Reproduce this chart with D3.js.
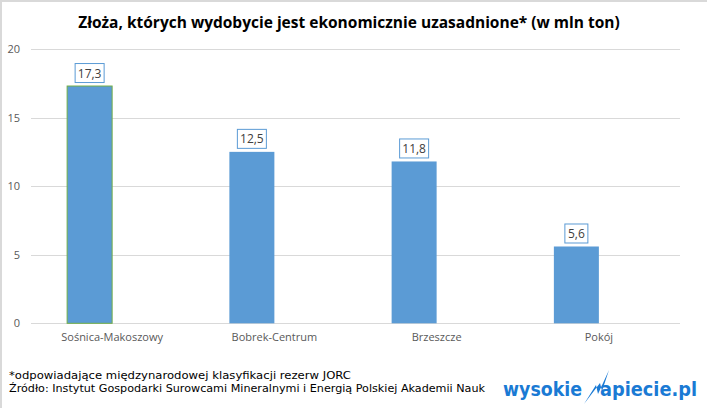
<!DOCTYPE html>
<html>
<head>
<meta charset="utf-8">
<script src="https://cdn.jsdelivr.net/npm/d3@7"></script>
<style>
  body { margin: 0; background: #fff; }
  svg { display: block; }
</style>
</head>
<body>
<svg width="707" height="408"></svg>
<script>
const categories = ["Sośnica-Makoszowy", "Bobrek-Centrum", "Brzeszcze", "Pokój"];
const values = [17.3, 12.5, 11.8, 5.6];
const labels = ["17,3", "12,5", "11,8", "5,6"];
const yTicks = [0, 5, 10, 15, 20];
// second (empty) series slot – excel keeps room for it next to each bar
const series = ["value", "empty"];

const svg = d3.select("svg");

// light frame on the left and top edge
svg.append("line").attr("x1", 1).attr("x2", 1).attr("y1", 0).attr("y2", 408)
  .attr("stroke", "#d9d9d9").attr("stroke-width", 2);
svg.append("line").attr("x1", 0).attr("x2", 707).attr("y1", 1).attr("y2", 1)
  .attr("stroke", "#d9d9d9").attr("stroke-width", 2);

const plotLeft = 31, plotRight = 680, plotTop = 49, plotBottom = 323.3;

const x = d3.scaleBand()
  .domain(categories)
  .range([plotLeft, plotRight])
  .paddingInner(0.4453)
  .paddingOuter(0.4453 / 2);

const x1 = d3.scaleBand().domain(series).range([0, x.bandwidth()]);

const y = d3.scaleLinear().domain([0, 20]).range([plotBottom, plotTop]);

svg.append("text")
  .attr("x", 349)
  .attr("y", 28)
  .attr("text-anchor", "middle")
  .style("font-family", "'Open Sans', sans-serif")
  .style("font-weight", "bold")
  .style("font-size", "15.5px")
  .attr("fill", "#000")
  .text("Złoża, których wydobycie jest ekonomicznie uzasadnione* (w mln ton)");

// grid
svg.append("g")
  .selectAll("line")
  .data(yTicks)
  .join("line")
  .attr("x1", plotLeft)
  .attr("x2", plotRight)
  .attr("y1", (d) => Math.round(y(d)) + 0.5)
  .attr("y2", (d) => Math.round(y(d)) + 0.5)
  .attr("stroke", "#d9d9d9");

const yAxis = svg.append("g")
  .attr("transform", `translate(20,0)`)
  .call(d3.axisLeft(y).tickValues(yTicks).tickSize(0).tickPadding(0));
yAxis.select(".domain").remove();
yAxis.selectAll("text")
  .style("font-family", "'Open Sans', sans-serif")
  .style("font-size", "11px")
  .attr("fill", "#595959");

const xAxis = svg.append("g")
  .attr("transform", `translate(0,${plotBottom})`)
  .call(d3.axisBottom(x).tickSize(0).tickPadding(10));
xAxis.select(".domain").remove();
xAxis.selectAll("text")
  .style("font-family", "'Open Sans', sans-serif")
  .style("font-size", "11px")
  .attr("fill", "#595959");

svg.append("g")
  .selectAll("rect")
  .data(values)
  .join("rect")
  .attr("x", (d, i) => x(categories[i]) + x1("value"))
  .attr("y", (d) => y(d))
  .attr("width", x1.bandwidth())
  .attr("height", (d) => y(0) - y(d))
  .attr("fill", "#5b9bd5")
  .attr("stroke", (d, i) => (i === 0 ? "#70ad47" : "none"))
  .attr("stroke-width", 1);

// data labels in boxes
const lab = svg.append("g")
  .selectAll("g")
  .data(values)
  .join("g")
  .attr("transform", (d, i) =>
    `translate(${x(categories[i]) + x1("value") + x1.bandwidth() / 2},${y(d) - 13})`);

lab.append("rect")
  .attr("x", (d, i) => (labels[i].length > 3 ? -14.5 : -11.5))
  .attr("y", -9.5)
  .attr("width", (d, i) => (labels[i].length > 3 ? 29 : 23))
  .attr("height", 19)
  .attr("fill", "#fff")
  .attr("stroke", "#5b9bd5");

lab.append("text")
  .attr("text-anchor", "middle")
  .attr("y", 4.5)
  .style("font-family", "'Open Sans', sans-serif")
  .style("font-size", "12px")
  .attr("fill", "#404040")
  .text((d, i) => labels[i]);

// footnotes
const notes = svg.append("g")
  .style("font-family", "'DejaVu Sans', sans-serif")
  .style("font-size", "11px")
  .attr("fill", "#000");
notes.append("text").attr("x", 9).attr("y", 379)
  .attr("textLength", 342).attr("lengthAdjust", "spacingAndGlyphs")
  .text("*odpowiadające międzynarodowej klasyfikacji rezerw JORC");
notes.append("text").attr("x", 9).attr("y", 392)
  .attr("textLength", 476).attr("lengthAdjust", "spacingAndGlyphs")
  .text("Źródło: Instytut Gospodarki Surowcami Mineralnymi i Energią Polskiej Akademii Nauk");

// logo
const logo = svg.append("g")
  .style("font-family", "'DejaVu Sans', sans-serif")
  .style("font-weight", "bold")
  .style("font-size", "19px")
  .attr("fill", "#1a7ad4");
logo.append("text").attr("x", 503).attr("y", 396)
  .attr("textLength", 79).attr("lengthAdjust", "spacingAndGlyphs").text("wysokie");
logo.append("text").attr("x", 600).attr("y", 396)
  .attr("textLength", 97).attr("lengthAdjust", "spacingAndGlyphs").text("apiecie.pl");
logo.append("path")
  .attr("d", "M584,404 L596,385 L598,394 L609,370 L602,391 L600,383 Z")
  .attr("fill", "#1a7ad4");
</script>
</body>
</html>
